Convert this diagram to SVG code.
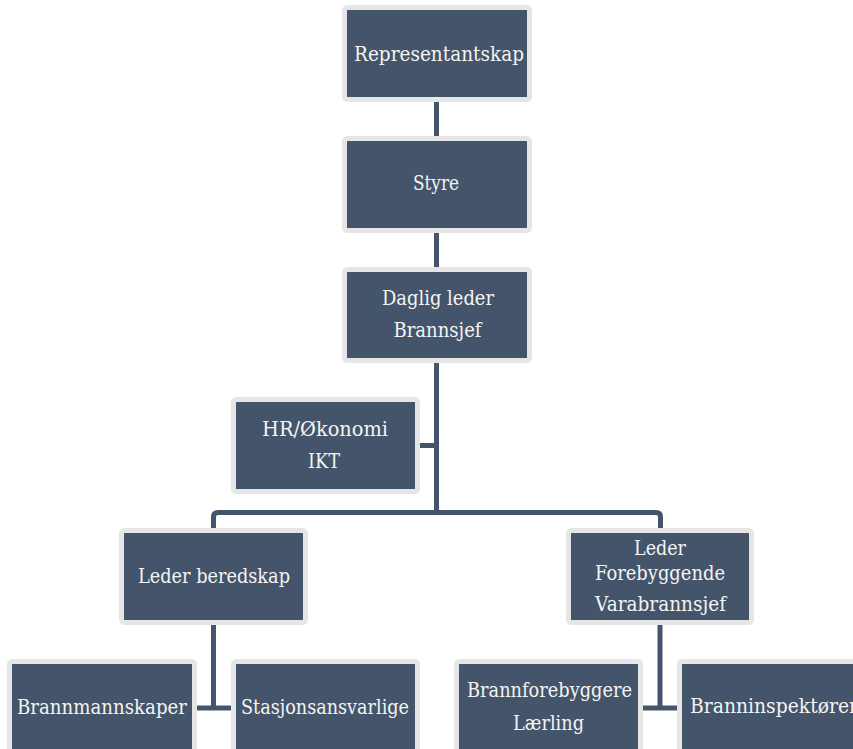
<svg xmlns="http://www.w3.org/2000/svg" width="853" height="749" viewBox="0 0 853 749">
<style>
.box rect{fill:#44546a;stroke:#e7e6e6;stroke-width:5}
.box text{fill:#f4f4f4;font-family:"DejaVu Serif","Liberation Serif",serif;font-size:20px;text-anchor:middle}
#connectors path{fill:none;stroke:#44546a;stroke-width:5}
</style>
<rect width="853" height="749" fill="#ffffff"/>
<g id="connectors">
<path d="M436.5 100 V139"/>
<path d="M436.5 230 V270"/>
<path d="M436.5 360 V512.5"/>
<path d="M418 445.5 H436.5"/>
<path d="M213.5 531 V517 Q213.5 512.5 218 512.5 H656 Q660.5 512.5 660.5 517 V531"/>
<path d="M213.5 623 V708"/>
<path d="M195 708 H234"/>
<path d="M660 623 V708"/>
<path d="M640 708 H680"/>
</g>
<g id="representantskap" class="box"><rect x="344.5" y="7.5" width="185" height="92" rx="3"/><text x="439" y="61" textLength="170" lengthAdjust="spacingAndGlyphs">Representantskap</text></g>
<g id="styre" class="box"><rect x="344.5" y="138.5" width="185" height="92" rx="3"/><text x="436" y="190" textLength="46" lengthAdjust="spacingAndGlyphs">Styre</text></g>
<g id="daglig-leder" class="box"><rect x="344.5" y="269.5" width="185" height="91" rx="3"/><text x="438" y="305" textLength="112" lengthAdjust="spacingAndGlyphs">Daglig leder</text><text x="437.5" y="337" textLength="88" lengthAdjust="spacingAndGlyphs">Brannsjef</text></g>
<g id="hr" class="box"><rect x="233.5" y="399.5" width="184" height="92" rx="3"/><text x="325" y="436" textLength="126" lengthAdjust="spacingAndGlyphs">HR/Økonomi</text><text x="324" y="468" textLength="32" lengthAdjust="spacingAndGlyphs">IKT</text></g>
<g id="leder-beredskap" class="box"><rect x="121.5" y="530.5" width="184" height="92" rx="3"/><text x="214" y="583" textLength="152" lengthAdjust="spacingAndGlyphs">Leder beredskap</text></g>
<g id="leder-forebyggende" class="box"><rect x="568.5" y="530.5" width="183" height="92" rx="3"/><text x="660" y="555" textLength="52" lengthAdjust="spacingAndGlyphs">Leder</text><text x="660" y="580" textLength="130" lengthAdjust="spacingAndGlyphs">Forebyggende</text><text x="660.5" y="611" textLength="131" lengthAdjust="spacingAndGlyphs">Varabrannsjef</text></g>
<g id="brannmannskaper" class="box"><rect x="9.5" y="661.5" width="185" height="92" rx="3"/><text x="102" y="714" textLength="170" lengthAdjust="spacingAndGlyphs">Brannmannskaper</text></g>
<g id="stasjonsansvarlige" class="box"><rect x="233.5" y="661.5" width="184" height="92" rx="3"/><text x="325" y="714" textLength="168" lengthAdjust="spacingAndGlyphs">Stasjonsansvarlige</text></g>
<g id="brannforebyggere" class="box"><rect x="456.5" y="661.5" width="184" height="92" rx="3"/><text x="549.5" y="697" textLength="165" lengthAdjust="spacingAndGlyphs">Brannforebyggere</text><text x="548.5" y="730" textLength="71" lengthAdjust="spacingAndGlyphs">Lærling</text></g>
<g id="branninspektorer" class="box"><rect x="679.5" y="661.5" width="185" height="92" rx="3"/><text x="774" y="713" textLength="168" lengthAdjust="spacingAndGlyphs">Branninspektører</text></g>
</svg>
